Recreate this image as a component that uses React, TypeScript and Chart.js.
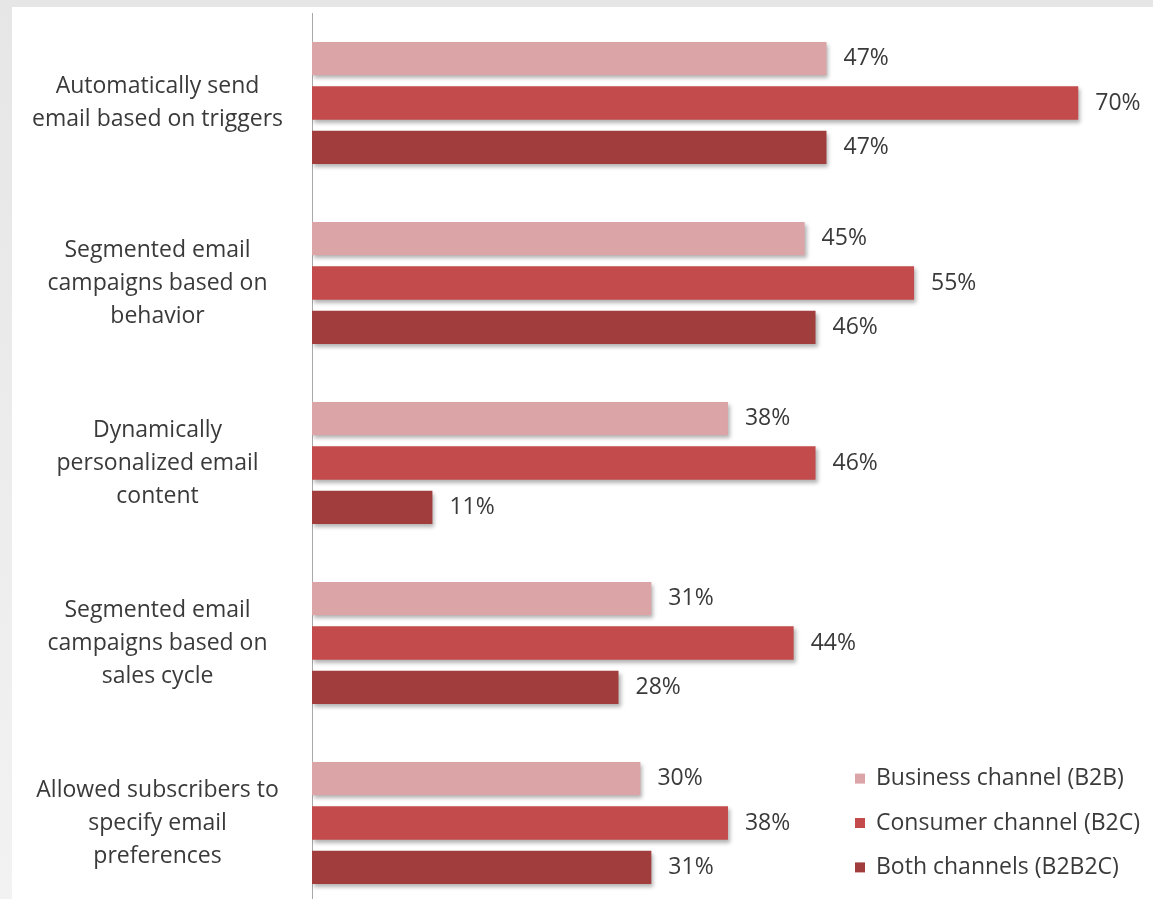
import React, { useEffect, useRef } from "react";
import { Chart, registerables } from "chart.js";

Chart.register(...registerables);

const categories: string[][] = [
  ["Automatically send", "email based on triggers"],
  ["Segmented email", "campaigns based on", "behavior"],
  ["Dynamically", "personalized email", "content"],
  ["Segmented email", "campaigns based on", "sales cycle"],
  ["Allowed subscribers to", "specify email", "preferences"],
];

const seriesNames = ["Business channel (B2B)", "Consumer channel (B2C)", "Both channels (B2B2C)"];
const b2b = [47, 45, 38, 31, 30];
const b2c = [70, 55, 46, 44, 38];
const b2b2c = [47, 46, 11, 28, 31];
const seriesColors = ["#dba4a6", "#c44b4b", "#a13d3d"];

const FONT = "'Open Sans', 'Liberation Sans', sans-serif";
const FONT_SIZE = 23;
const TEXT = "#3a3a3a";

const shadowPlugin = {
  id: "barShadow",
  beforeDatasetsDraw(chart: any) {
    const ctx = chart.ctx;
    ctx.save();
    ctx.shadowColor = "rgba(0,0,0,0.30)";
    ctx.shadowBlur = 4;
    ctx.shadowOffsetX = 2;
    ctx.shadowOffsetY = 3;
  },
  afterDatasetsDraw(chart: any) {
    chart.ctx.restore();
  },
};

const labelPlugin = {
  id: "valueLabels",
  afterDraw(chart: any) {
    const ctx = chart.ctx;
    ctx.save();
    ctx.font = `${FONT_SIZE}px ${FONT}`;
    ctx.fillStyle = TEXT;
    ctx.textBaseline = "middle";
    ctx.textAlign = "left";
    chart.data.datasets.forEach((ds: any, i: number) => {
      const meta = chart.getDatasetMeta(i);
      meta.data.forEach((el: any, j: number) => {
        ctx.fillText(`${ds.data[j]}%`, el.x + 17, el.y);
      });
    });
    // legend aligned with last category bars
    chart.data.datasets.forEach((ds: any, i: number) => {
      const meta = chart.getDatasetMeta(i);
      const el = meta.data[meta.data.length - 1];
      const y = el.y;
      ctx.fillStyle = ds.backgroundColor;
      ctx.fillRect(843, y - 5, 10, 10);
      ctx.fillStyle = TEXT;
      ctx.fillText(ds.label, 864, y);
    });
    ctx.restore();
  },
};

export default function App() {
  const ref = useRef<HTMLCanvasElement | null>(null);

  useEffect(() => {
    if (!ref.current) return;
    const chart = new Chart(ref.current, {
      type: "bar",
      data: {
        labels: categories,
        datasets: [
          { label: seriesNames[0], data: b2b, backgroundColor: seriesColors[0] },
          { label: seriesNames[1], data: b2c, backgroundColor: seriesColors[1] },
          { label: seriesNames[2], data: b2b2c, backgroundColor: seriesColors[2] },
        ],
      },
      options: {
        indexAxis: "y",
        animation: false,
        responsive: false,
        maintainAspectRatio: false,
        layout: { padding: { left: 0, right: 20, top: 6, bottom: 4 } },
        datasets: {
          bar: { categoryPercentage: 0.74, barPercentage: 0.75 },
        },
        plugins: {
          legend: { display: false },
          tooltip: { enabled: false },
        },
        scales: {
          x: {
            display: false,
            min: 0,
            max: 75,
          },
          y: {
            grid: { display: false, drawTicks: false },
            border: { display: true, color: "#a8a8a8", width: 1 },
            ticks: {
              crossAlign: "center",
              padding: 29,
              color: TEXT,
              font: { family: FONT, size: FONT_SIZE, lineHeight: 33 / FONT_SIZE },
            },
            afterFit(scale: any) {
              scale.width = 300;
              scale.paddingTop = 0;
              scale.paddingBottom = 0;
            },
          },
        },
      },
      plugins: [shadowPlugin, labelPlugin],
    });
    return () => chart.destroy();
  }, []);

  return (
    <div
      style={{
        position: "fixed",
        left: 0,
        top: 0,
        width: 1153,
        height: 899,
        overflow: "hidden",
        background: "linear-gradient(180deg, #e6e6e6, #f2f2f2)",
      }}
    >
      <div
        style={{
          position: "absolute",
          left: 12,
          top: 7,
          width: 1141,
          height: 892,
          overflow: "hidden",
          background: "#ffffff",
        }}
      >
        <canvas ref={ref} width={1141} height={910} style={{ display: "block" }} />
      </div>
    </div>
  );
}
